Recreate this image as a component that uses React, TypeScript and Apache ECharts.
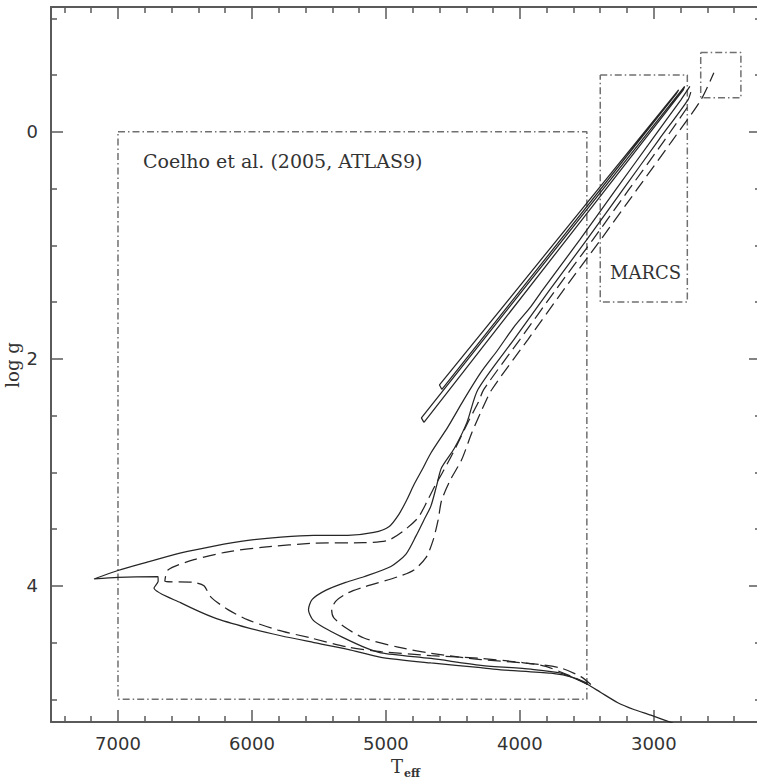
import React, { useEffect, useRef } from "react";
import * as echarts from "echarts";

// Axis ticks
const xMajor = [3000, 4000, 5000, 6000, 7000];
const xMinor = [2400, 2600, 2800, 3200, 3400, 3600, 3800, 4200, 4400, 4600, 4800, 5200, 5400, 5600, 5800, 6200, 6400, 6600, 6800, 7200, 7400];
const yMajor = [0, 2, 4];
const yMinor = [-1, -0.5, 0.5, 1, 1.5, 2.5, 3, 3.5, 4.5, 5];

// Isochrones [Teff, log g]
const solidA = [
  [2858, 5.21], [3022, 5.14], [3149, 5.09], [3269, 5.03], [3396, 4.94], [3493, 4.87], [3597, 4.81], [3769, 4.77],
  [4142, 4.74], [4291, 4.72], [4664, 4.68], [5037, 4.63], [5284, 4.56], [5537, 4.5], [5784, 4.44], [6030, 4.37],
  [6284, 4.28], [6530, 4.15], [6731, 4.02], [6700, 3.96], [6701, 3.92], [7000, 3.925], [7179, 3.94], [7000, 3.865],
  [6776, 3.79], [6530, 3.71], [6284, 3.65], [6030, 3.6], [5784, 3.57], [5537, 3.555], [5284, 3.555], [5090, 3.53],
  [4978, 3.48], [4903, 3.37], [4843, 3.24], [4791, 3.11], [4731, 2.98], [4664, 2.83], [4537, 2.6], [4418, 2.36], [4291, 2.12],
  [4164, 1.92], [4045, 1.72], [3918, 1.54], [3828, 1.39], [3552, 0.95], [3284, 0.51], [3015, 0.07], [2799, -0.28], [2731, -0.4],
];
const solidB = [
  [3493, 4.87], [3694, 4.77], [3918, 4.735], [4291, 4.7], [4664, 4.64], [5037, 4.59], [5164, 4.54], [5330, 4.45], [5460, 4.37],
  [5545, 4.3], [5578, 4.21], [5550, 4.12], [5450, 4.04], [5300, 3.97], [5164, 3.92], [4963, 3.83], [4850, 3.72], [4775, 3.56],
  [4716, 3.42], [4665, 3.3], [4622, 3.12], [4585, 2.96], [4490, 2.79], [4395, 2.56], [4313, 2.27], [4045, 1.83],
  [3776, 1.39], [3500, 0.95], [3231, 0.51], [2963, 0.07], [2746, -0.28], [2724, -0.35],
];
const dashedA = [
  [3493, 4.86], [3806, 4.71], [3993, 4.675], [4291, 4.64], [4664, 4.615], [5037, 4.58], [5284, 4.54], [5560, 4.46],
  [5806, 4.39], [6030, 4.3], [6179, 4.21], [6306, 4.1], [6358, 4.0], [6433, 3.97], [6650, 3.96], [6627, 3.86],
  [6433, 3.77], [6179, 3.7], [5910, 3.66], [5537, 3.625], [5164, 3.62], [4985, 3.6], [4873, 3.52], [4760, 3.4],
  [4690, 3.25], [4630, 3.11], [4567, 2.98], [4478, 2.78], [4388, 2.56], [4313, 2.39], [4269, 2.27], [4000, 1.83],
  [3731, 1.39], [3455, 0.95], [3187, 0.51], [2918, 0.07], [2724, -0.26],
];
const dashedB = [
  [3470, 4.87], [3545, 4.8], [3694, 4.725], [3918, 4.685], [4291, 4.65], [4664, 4.595], [4910, 4.54], [5164, 4.46],
  [5300, 4.37], [5390, 4.28], [5405, 4.21], [5370, 4.13], [5280, 4.06], [5164, 4.01], [4910, 3.92], [4791, 3.86],
  [4700, 3.75], [4648, 3.6], [4610, 3.42], [4585, 3.25], [4520, 3.07], [4435, 2.89], [4358, 2.65], [4284, 2.45],
  [4209, 2.27], [3940, 1.83], [3672, 1.39], [3396, 0.95], [3127, 0.51], [2858, 0.07], [2649, -0.28], [2552, -0.52],
];
const branchA = [[4716, 2.56], [2780, -0.37], [2770, -0.4], [4735, 2.52], [4716, 2.56]];
const branchB = [[4582, 2.27], [2830, -0.34], [2815, -0.37], [4600, 2.23], [4582, 2.27]];

// Model grid boxes
const boxAtlas = [[7000, 0], [3500, 0], [3500, 5], [7000, 5], [7000, 0]];
const boxMarcs = [[3400, -0.5], [2750, -0.5], [2750, 1.5], [3400, 1.5], [3400, -0.5]];
const boxSmall = [[2650, -0.7], [2350, -0.7], [2350, -0.3], [2650, -0.3], [2650, -0.7]];

const X_MIN = 2200, X_MAX = 7500, Y_MIN = -1.1, Y_MAX = 5.2;

export default function App() {
  const ref = useRef<HTMLDivElement>(null);
  useEffect(() => {
    if (!ref.current) return;
    const chart = echarts.init(ref.current, undefined, { renderer: "svg" });
    const frame = "#5a5a5a";
    const fmt = (v: number) => String(v);
    const mkX = (pos: string, vals: number[], len: number, line: boolean, labels: boolean) => ({
      type: "value", position: pos, min: X_MIN, max: X_MAX, inverse: true,
      axisLine: { show: line, onZero: false, lineStyle: { color: frame, width: 2 } },
      axisTick: { show: true, inside: true, length: len, customValues: vals, lineStyle: { color: frame, width: 1.5 } },
      axisLabel: labels
        ? { show: true, customValues: vals, formatter: fmt, margin: 12, color: "#333", fontSize: 18, fontFamily: "DejaVu Sans" }
        : { show: false },
      splitLine: { show: false },
    });
    const mkY = (pos: string, vals: number[], len: number, line: boolean, labels: boolean) => ({
      type: "value", position: pos, min: Y_MIN, max: Y_MAX, inverse: true,
      axisLine: { show: line, onZero: false, lineStyle: { color: frame, width: 2 } },
      axisTick: { show: true, inside: true, length: len, customValues: vals, lineStyle: { color: frame, width: 1.5 } },
      axisLabel: labels
        ? { show: true, customValues: vals, formatter: fmt, margin: 13, color: "#333", fontSize: 18, fontFamily: "DejaVu Sans" }
        : { show: false },
      splitLine: { show: false },
    });
    const curve = (data: number[][], dashed: boolean, smooth = 0.25) => ({
      type: "line", data, showSymbol: false, symbol: "none", smooth,
      lineStyle: { color: "#262626", width: 1.25, type: dashed ? [13, 6] : "solid" },
      silent: true,
    });
    const box = (data: number[][]) => ({
      type: "line", data, showSymbol: false, symbol: "none", smooth: false,
      lineStyle: { color: "#707070", width: 1.5, type: [7, 3, 1.5, 3] },
      silent: true,
    });
    chart.setOption({
      animation: false,
      backgroundColor: "#ffffff",
      grid: { left: 51, top: 7, right: 1, bottom: 59, containLabel: false },
      xAxis: [
        mkX("bottom", xMajor, 12, true, true),
        mkX("bottom", xMinor, 6, false, false),
        mkX("top", xMajor, 12, true, false),
        mkX("top", xMinor, 6, false, false),
      ],
      yAxis: [
        mkY("left", yMajor, 12, true, true),
        mkY("left", yMinor, 6, false, false),
        mkY("right", yMajor, 12, true, false),
        mkY("right", yMinor, 6, false, false),
      ],
      series: [
        box(boxAtlas), box(boxMarcs), box(boxSmall),
        curve(solidA, false), curve(solidB, false), curve(dashedA, true), curve(dashedB, true),
        curve(branchA, false, 0), curve(branchB, false, 0),
      ],
      graphic: [
        { type: "text", left: 143, top: 151, style: { text: "Coelho et al. (2005, ATLAS9)", font: "19px 'DejaVu Serif'", fill: "#333" } },
        { type: "text", left: 610, top: 263, style: { text: "MARCS", font: "18px 'DejaVu Serif'", fill: "#333" } },
        { type: "text", x: 12, y: 365, rotation: Math.PI / 2, style: { text: "log g", font: "18px 'DejaVu Serif'", fill: "#333", align: "center", verticalAlign: "middle" } },
        { type: "text", left: 391, top: 757, style: { text: "T", font: "18px 'DejaVu Serif'", fill: "#333" } },
        { type: "text", left: 404, top: 768, style: { text: "eff", font: "bold 11px 'DejaVu Serif'", fill: "#333" } },
      ],
    });
    return () => chart.dispose();
  }, []);
  return (
    <div style={{ position: "fixed", left: 0, top: 0, width: 757, height: 781, overflow: "hidden", background: "#fff" }}>
      <div ref={ref} style={{ width: 762, height: 781 }} />
    </div>
  );
}
